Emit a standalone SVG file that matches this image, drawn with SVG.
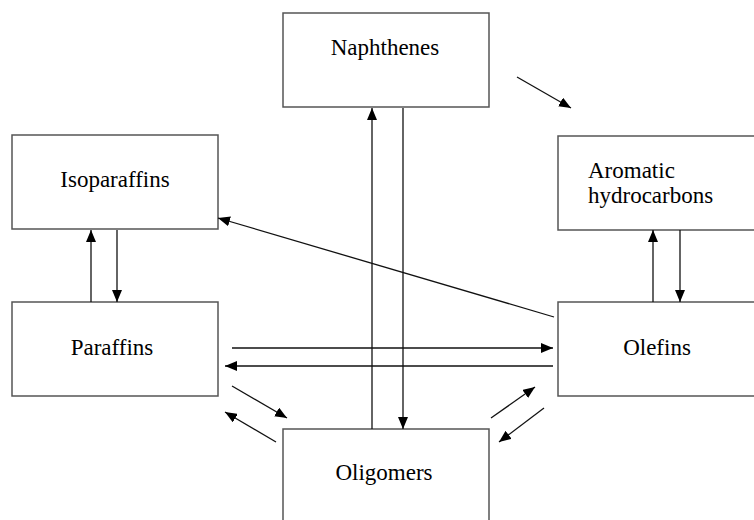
<svg xmlns="http://www.w3.org/2000/svg" width="754" height="520" viewBox="0 0 754 520">
<style>
.box{fill:#fff;stroke:#555;stroke-width:1.5}
.t{font-family:'Liberation Serif','Times New Roman',serif;font-size:23px;fill:#000}
.c{text-anchor:middle}
.a{stroke:#111;stroke-width:1.3;fill:none;marker-end:url(#ah)}
</style>
<defs>
<marker id="ah" viewBox="0 0 12 10" refX="12" refY="5" markerWidth="12" markerHeight="10" markerUnits="userSpaceOnUse" orient="auto">
<path d="M0,0 L12,5 L0,10 Z" fill="#000"/>
</marker>
</defs>
<rect width="754" height="520" fill="#fff"/>
<g id="naphthenes"><rect class="box" x="283" y="13" width="206" height="94"/><text class="t c" x="385" y="55">Naphthenes</text></g>
<g id="isoparaffins"><rect class="box" x="12" y="135" width="206" height="94"/><text class="t c" x="115" y="187">Isoparaffins</text></g>
<g id="aromatic"><rect class="box" x="558" y="136" width="206" height="94"/><text class="t" x="588" y="178">Aromatic</text><text class="t" x="588" y="203">hydrocarbons</text></g>
<g id="paraffins"><rect class="box" x="12" y="302" width="206" height="94"/><text class="t c" x="112" y="355">Paraffins</text></g>
<g id="olefins"><rect class="box" x="558" y="302" width="206" height="94"/><text class="t c" x="657" y="355">Olefins</text></g>
<g id="oligomers"><rect class="box" x="283" y="429" width="206" height="100"/><text class="t c" x="384" y="480">Oligomers</text></g>
<g id="connectors">
<path class="a" d="M517,77 L571,108"/>
<path class="a" d="M372,429 L372,108"/>
<path class="a" d="M403,108 L403,429"/>
<path class="a" d="M91,302 L91,230"/>
<path class="a" d="M117,230 L117,302"/>
<path class="a" d="M653,302 L653,230"/>
<path class="a" d="M680,230 L680,302"/>
<path class="a" d="M554,317 L218,218"/>
<path class="a" d="M232,348 L553,348"/>
<path class="a" d="M553,366 L225,366"/>
<path class="a" d="M232,386 L287,418"/>
<path class="a" d="M276,442 L225,412"/>
<path class="a" d="M491,418 L535,387"/>
<path class="a" d="M544,408 L499,442"/>
</g>
</svg>
